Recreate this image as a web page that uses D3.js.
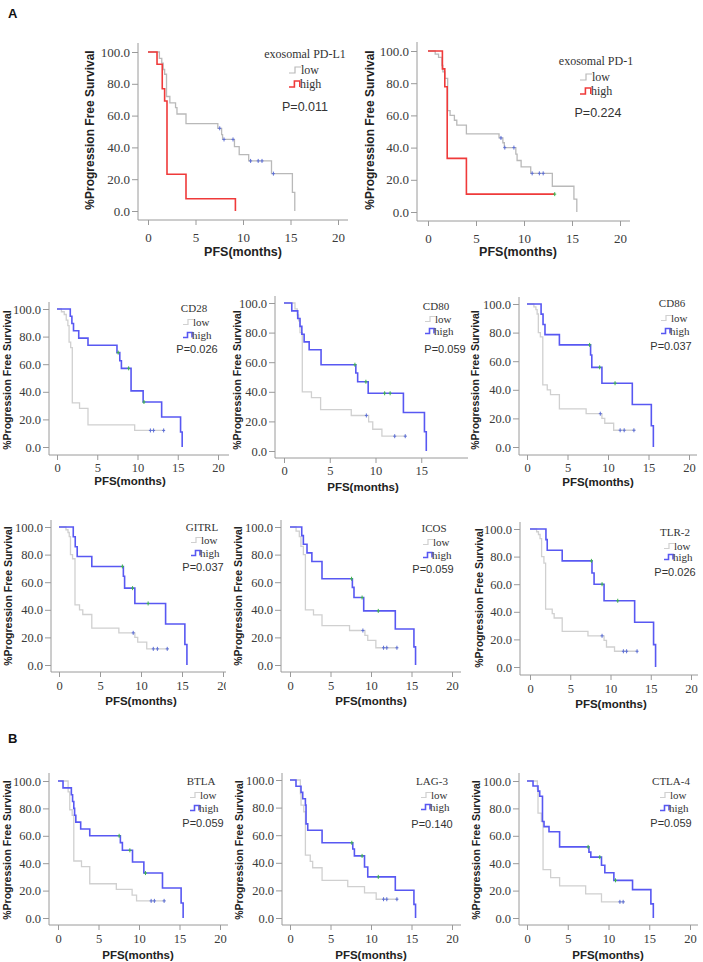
<!DOCTYPE html>
<html><head><meta charset="utf-8">
<script src="https://cdn.jsdelivr.net/npm/d3@7"></script>
<style>body{margin:0;background:#fff}svg{display:block}</style>
</head><body>
<svg id="c" width="703" height="962"></svg>
<script>
// ---------- DATA ----------
const xTicks = [0, 5, 10, 15, 20];
const xTicksCut = [0, 5, 10, 15];
const yTicks = [0, 20, 40, 60, 80, 100];
const groupLabels = ["low", "high"];
const xTitle = "PFS(months)";
const yTitle = "%Progression Free Survival";

const pdl1Low = [[0,100],[1.2,96],[1.45,93],[1.6,89],[1.75,86],[1.95,72],[2.3,68],[2.9,65],[3.05,61],[4.0,55],[7.35,52],[7.75,48],[7.85,45],[9.1,40.5],[9.6,35.5],[10.6,31.5],[13.0,23.5],[15.2,11.7],[15.45,0]];
const pdl1LowCens = [7.55, 8.0, 8.95, 10.8, 11.6, 12.0, 13.2];
const pdl1High = [[0,100],[0.95,92.3],[1.5,76.9],[1.75,69.2],[2.0,23.1],[4.0,7.7],[9.2,0]];
const pdl1HighCens = [];

const pd1Low = [[0,100],[0.75,98],[1.1,96],[1.45,91],[1.55,87],[1.75,83],[2.05,63],[2.3,60],[2.75,57],[3.0,54],[4.0,48.5],[7.4,46],[7.8,43],[7.95,40],[9.15,36],[9.28,32],[9.7,28],[10.7,24],[12.95,16],[15.2,8],[15.5,0]];
const pd1LowCens = [7.6, 8.0, 8.95, 10.85, 11.6, 12.0];
const pd1High = [[0,100],[1.5,88.9],[1.75,77.8],[2.0,33.3],[4.0,11.1],[13.2,11.1]];
const pd1HighCens = [13.2];

const cd28Low = [[0,100],[0.55,98],[0.9,96],[1.15,92],[1.35,88],[1.5,76],[1.7,72],[1.9,32],[2.8,28],[3.85,16],[9.65,12],[13.4,12]];
const cd28LowCens = [11.6, 12.0, 13.25];
const cd28High = [[0,100],[1.65,94.7],[1.85,89.5],[2.05,84.2],[2.7,78.9],[3.85,73.7],[7.45,68.4],[7.8,62.5],[8.0,57.0],[9.2,40.7],[10.7,32.6],[13.0,21.7],[15.35,10.9],[15.55,0]];
const cd28HighCens = [7.6, 8.9, 10.8];

const cd80Low = [[0,100],[1.2,96],[1.45,92],[1.6,88],[1.75,80],[2.0,40],[3.0,36],[4.0,28],[7.35,24],[9.25,19.7],[9.7,14.7],[10.7,10],[13.4,10]];
const cd80LowCens = [9.0, 12.1, 13.25];
const cd80High = [[0,100],[0.85,94.7],[1.5,89.5],[1.75,84.2],[1.95,78.9],[2.2,73.7],[2.75,68.4],[4.05,58.3],[7.85,52.7],[8.05,46.8],[9.2,39],[13.05,26],[15.35,13],[15.55,0]];
const cd80HighCens = [7.75, 8.95, 11.0, 11.6];

const cd86Low = [[0,100],[0.85,98],[1.1,96],[1.25,93],[1.4,80],[1.65,77],[1.95,43.5],[2.5,40],[2.9,36.6],[4.0,26.7],[7.3,23.3],[9.25,20],[9.6,16.6],[10.7,11.7],[13.4,11.7]];
const cd86LowCens = [9.05, 11.5, 12.0, 13.2];
const cd86High = [[0,100],[1.74,92.9],[1.98,85.7],[2.22,78.6],[4.0,71.4],[7.85,64.3],[8.0,55.7],[9.25,44.6],[13.0,29.7],[15.35,14.9],[15.6,0]];
const cd86HighCens = [7.73, 8.97, 10.87];

const gitrlLow = [[0,100],[0.85,98],[1.1,96],[1.25,93],[1.4,80],[1.65,77],[1.95,43.5],[2.5,40],[2.9,36.6],[4.0,26.7],[7.3,23.3],[9.25,20],[9.6,16.6],[10.7,11.7],[13.4,11.7]];
const gitrlLowCens = [9.05, 11.5, 12.0, 13.2];
const gitrlHigh = [[0,100],[1.74,92.9],[1.98,85.7],[2.22,78.6],[4.0,71.4],[7.85,64.3],[8.0,55.7],[9.25,44.6],[13.0,29.7],[15.35,14.9],[15.6,0]];
const gitrlHighCens = [7.73, 8.97, 10.87];

const icosLow = [[0,100],[0.75,97],[1.15,93],[1.35,86],[1.65,80],[1.9,40],[2.9,36.3],[3.95,28.6],[7.35,25],[9.25,21.4],[9.6,17.8],[10.6,12.5],[13.35,12.5]];
const icosLowCens = [9.0, 11.55, 11.95, 13.2];
const icosHigh = [[0,100],[1.45,93.75],[1.65,87.5],[2.1,81.25],[2.7,75],[3.95,62.5],[7.7,56.25],[7.9,48.9],[9.1,39.2],[13.0,26.1],[15.3,13.1],[15.5,0]];
const icosHighCens = [7.6, 8.9, 10.9];

const tlr2Low = [[0,100],[0.82,98],[1.05,96],[1.25,93],[1.44,80],[1.73,75.3],[1.94,42],[2.76,38.7],[3.0,35.5],[4.0,25.8],[7.2,22.6],[9.2,19.3],[9.5,14.5],[10.5,11.4],[13.4,11.4]];
const tlr2LowCens = [8.95, 11.6, 12.0, 13.3];
const tlr2High = [[0,100],[1.98,92.3],[2.14,84.6],[4.0,76.9],[7.7,68.1],[7.96,60],[9.2,48],[13.0,32.4],[15.35,16.2],[15.6,0]];
const tlr2HighCens = [7.63, 8.95, 10.9];

const btlaLow = [[0,100],[1.25,92],[1.45,79],[1.75,75],[1.95,41.6],[2.9,37.5],[3.92,25],[7.2,20.9],[9.15,16.7],[9.7,12.5],[13.3,12.5]];
const btlaLowCens = [11.5, 11.9, 13.1];
const btlaHigh = [[0,100],[0.62,95],[1.65,90],[1.8,85],[1.95,80],[2.05,75],[2.2,70],[2.8,65],[3.92,60],[7.7,55],[7.95,49.4],[9.2,40.9],[10.6,32.8],[12.9,21.9],[15.2,10.9],[15.45,0]];
const btlaHighCens = [7.55, 8.87, 10.8];

const lag3Low = [[0,100],[1.28,90],[1.36,81.8],[1.7,77],[1.9,45.5],[2.5,41],[2.8,36.4],[3.96,27.3],[7.13,22.7],[9.2,18.2],[10.64,13.6],[13.35,13.6]];
const lag3LowCens = [11.55, 11.95, 13.2];
const lag3High = [[0,100],[0.74,95.5],[1.36,91],[1.57,86.4],[1.9,81.8],[1.98,68.2],[2.19,63.6],[3.96,54.5],[7.75,50],[7.95,45],[9.2,37],[9.6,29.8],[13.0,20.1],[15.3,9.9],[15.5,0]];
const lag3HighCens = [7.63, 8.9, 10.9];

const ctla4Low = [[0,100],[1.27,94],[1.35,76.5],[1.76,70.6],[1.97,35.3],[2.9,29.4],[4.0,23.5],[7.2,17.6],[9.14,11.8],[12.0,11.8]];
const ctla4LowCens = [11.4, 11.8];
const ctla4High = [[0,100],[0.74,96.3],[1.35,92.6],[1.56,88.9],[1.9,70.4],[2.09,66.7],[2.7,63],[4.0,51.9],[7.6,48.1],[7.83,44.4],[9.14,38.5],[9.55,33],[10.66,27.5],[12.95,20.7],[15.2,10.3],[15.5,0]];
const ctla4HighCens = [7.5, 8.93, 10.86];

// ---------- LAYOUT ----------
const RED = "#ef3a3a", BLUE = "#5858f2", GRAY_T = "#b9b9b9", GRAY_B = "#d0d0d0";
const panels = [
 {name:"exosomal PD-L1", P:"P=0.011", low:pdl1Low, lowC:pdl1LowCens, high:pdl1High, highC:pdl1HighCens, col:RED, gray:GRAY_T, big:true,
  yAx:138, x0:148, x20:338, y100:52, y0:211, xAxY:220, top:43, right:348, ticks:xTicks, legX:305, legY:[54,70,84], pX:305, pY:107, yT:[90,130], xT:[243,252], tlY:237},
 {name:"exosomal PD-1", P:"P=0.224", low:pd1Low, lowC:pd1LowCens, high:pd1High, highC:pd1HighCens, col:RED, gray:GRAY_T, big:true,
  yAx:417, x0:428, x20:620, y100:51, y0:212, xAxY:221, top:42, right:630, ticks:xTicks, legX:596, legY:[61,77,91], pX:598, pY:113, yT:[370,130], xT:[518,252], tlY:238},
 {name:"CD28", P:"P=0.026", low:cd28Low, lowC:cd28LowCens, high:cd28High, highC:cd28HighCens, col:BLUE, gray:GRAY_B,
  yAx:49, x0:57, x20:218, y100:309, y0:447, xAxY:455, top:302, right:229, ticks:xTicks, legX:194, legY:[308,322,335], pX:197, pY:349, yT:[7,380], xT:[130,481], tlY:468},
 {name:"CD80", P:"P=0.059", low:cd80Low, lowC:cd80LowCens, high:cd80High, highC:cd80HighCens, col:BLUE, gray:GRAY_B,
  yAx:275, x0:284, x20:467, y100:303, y0:451, xAxY:458, top:296, right:468, ticks:xTicksCut, legX:436, legY:[306,319,331], pX:445, pY:349, yT:[237,380], xT:[363,487], tlY:471},
 {name:"CD86", P:"P=0.037", low:cd86Low, lowC:cd86LowCens, high:cd86High, highC:cd86HighCens, col:BLUE, gray:GRAY_B,
  yAx:519, x0:527, x20:689, y100:304, y0:447, xAxY:455, top:297, right:697, ticks:xTicks, legX:672, legY:[303,318,331], pX:671, pY:346, yT:[475,380], xT:[598,482], tlY:468},
 {name:"GITRL", P:"P=0.037", low:gitrlLow, lowC:gitrlLowCens, high:gitrlHigh, highC:gitrlHighCens, col:BLUE, gray:GRAY_B, clip:226,
  yAx:51, x0:59, x20:223, y100:527, y0:665, xAxY:672, top:520, right:230, ticks:xTicks, legX:202, legY:[527,540,553], pX:203, pY:567, yT:[8,596], xT:[141,701], tlY:686},
 {name:"ICOS", P:"P=0.059", low:icosLow, lowC:icosLowCens, high:icosHigh, highC:icosHighCens, col:BLUE, gray:GRAY_B,
  yAx:281, x0:290, x20:452, y100:527, y0:665, xAxY:672, top:520, right:461, ticks:xTicks, legX:434, legY:[528,542,555], pX:433, pY:569, yT:[238,596], xT:[371,701], tlY:686},
 {name:"TLR-2", P:"P=0.026", low:tlr2Low, lowC:tlr2LowCens, high:tlr2High, highC:tlr2HighCens, col:BLUE, gray:GRAY_B,
  yAx:520, x0:530, x20:691, y100:529, y0:667, xAxY:675, top:522, right:698, ticks:xTicks, legX:675, legY:[532,546,557], pX:675, pY:572, yT:[479,598], xT:[611,704], tlY:689},
 {name:"BTLA", P:"P=0.059", low:btlaLow, lowC:btlaLowCens, high:btlaHigh, highC:btlaHighCens, col:BLUE, gray:GRAY_B,
  yAx:49, x0:58, x20:220, y100:781, y0:918, xAxY:925, top:773, right:228, ticks:xTicks, legX:201, legY:[781,795,808], pX:203, pY:823, yT:[7,850], xT:[138,955], tlY:939},
 {name:"LAG-3", P:"P=0.140", low:lag3Low, lowC:lag3LowCens, high:lag3High, highC:lag3HighCens, col:BLUE, gray:GRAY_B,
  yAx:282, x0:290, x20:452, y100:780, y0:918, xAxY:925, top:773, right:461, ticks:xTicks, legX:432, legY:[781,795,807], pX:432, pY:824, yT:[239,850], xT:[371,955], tlY:939},
 {name:"CTLA-4", P:"P=0.059", low:ctla4Low, lowC:ctla4LowCens, high:ctla4High, highC:ctla4HighCens, col:BLUE, gray:GRAY_B,
  yAx:519, x0:527, x20:690, y100:781, y0:918, xAxY:925, top:773, right:698, ticks:xTicks, legX:671, legY:[781,795,808], pX:671, pY:823, yT:[476,850], xT:[608,955], tlY:939}
];

const svg = d3.select("#c");
const SERIF = "'Liberation Serif','Times New Roman',serif";
const SANS = "'Liberation Sans',Arial,sans-serif";

svg.append("text").attr("x",8).attr("y",18).text("A")
  .attr("font-family",SANS).attr("font-weight","bold").attr("font-size",13).attr("fill","#111");
svg.append("text").attr("x",8).attr("y",743).text("B")
  .attr("font-family",SANS).attr("font-weight","bold").attr("font-size",13).attr("fill","#111");

function survAt(curve, t){
  let s = curve[0][1];
  for (const [ti, si] of curve) { if (ti <= t) s = si; }
  return s;
}

panels.forEach((p, i) => {
  const g = svg.append("g");
  if (p.clip) {
    svg.append("clipPath").attr("id","cl"+i).append("rect")
      .attr("x",0).attr("y",p.top-20).attr("width",p.clip).attr("height",260);
    g.attr("clip-path","url(#cl"+i+")");
  }
  const x = d3.scaleLinear().domain([0,20]).range([p.x0, p.x20]);
  const y = d3.scaleLinear().domain([0,100]).range([p.y0, p.y100]);
  const axCol = "#9a9a9a", lblCol = "#3a3a3a";
  const tfs = p.big ? 13 : 12.5;

  // y axis
  const ya = g.append("g").attr("transform",`translate(${p.yAx},0)`)
    .call(d3.axisLeft(y).tickValues(yTicks).tickFormat(d3.format(".1f")).tickSize(6).tickPadding(2));
  ya.select(".domain").remove();
  ya.selectAll("line").attr("stroke",axCol);
  ya.selectAll("text").attr("font-family",SERIF).attr("font-size",tfs).attr("fill",lblCol);
  // x axis
  const xa = g.append("g").attr("transform",`translate(0,${p.xAxY})`)
    .call(d3.axisBottom(x).tickValues(p.ticks).tickSize(5).tickPadding(3));
  xa.select(".domain").remove();
  xa.selectAll("line").attr("stroke",axCol);
  xa.selectAll("text").attr("font-family",SERIF).attr("font-size",tfs).attr("fill",lblCol)
    .attr("y", p.tlY - p.xAxY).attr("dy","0.35em");
  g.append("line").attr("x1",p.yAx).attr("x2",p.yAx).attr("y1",p.top).attr("y2",p.xAxY).attr("stroke",axCol);
  g.append("line").attr("x1",p.yAx).attr("x2",p.right).attr("y1",p.xAxY).attr("y2",p.xAxY).attr("stroke",axCol);

  // titles
  g.append("text").attr("transform",`translate(${p.yT[0]},${p.yT[1]}) rotate(-90)`)
    .attr("text-anchor","middle").attr("dy","0.35em").text(yTitle)
    .attr("font-family",SANS).attr("font-weight","bold").attr("font-size",p.big?12:10.5).attr("fill","#222");
  g.append("text").attr("x",p.xT[0]).attr("y",p.xT[1]).attr("dy","0.35em")
    .attr("text-anchor","middle").text(xTitle)
    .attr("font-family",SANS).attr("font-weight","bold").attr("font-size",p.big?12.5:11.5).attr("fill","#222");

  // curves
  const line = d3.line().x(d=>x(d[0])).y(d=>y(d[1])).curve(d3.curveStepAfter);
  const series = [
    {data:p.low, cens:p.lowC, col:p.gray, ccol:"#5d6fd6", w:1.3},
    {data:p.high, cens:p.highC, col:p.col, ccol:"#3fb24f", w:1.6}
  ];
  series.forEach(s => {
    g.append("path").attr("d", line(s.data)).attr("fill","none")
      .attr("stroke", s.col).attr("stroke-width", s.w);
    g.selectAll(null).data(s.cens).enter().append("path")
      .attr("d", t => { const cx = x(t), cy = y(survAt(s.data,t));
        return `M${cx},${cy-2}V${cy+2}M${cx-1.5},${cy}H${cx+1.5}`; })
      .attr("stroke", s.ccol).attr("stroke-width",1).attr("fill","none");
  });

  // legend
  const lfs = p.big ? 12 : 11;
  g.append("text").attr("x",p.legX).attr("y",p.legY[0]).attr("dy","0.35em").attr("text-anchor","middle")
    .text(p.name).attr("font-family",SERIF).attr("font-size",lfs).attr("fill","#333");
  const iw = p.big ? 12 : 10, ih = p.big ? 3 : 2.5;
  const ix = p.big ? p.legX - 16 : p.legX - 11;
  [0,1].forEach(k => {
    const cy = p.legY[k+1];
    const col = k === 0 ? p.gray : p.col;
    const d = k === 0
      ? `M${ix},${cy+ih}H${ix+iw/2}V${cy-ih}H${ix+iw}`
      : `M${ix},${cy+ih}H${ix+iw*0.45}V${cy-ih}H${ix+iw*0.9}V${cy+ih}`;
    g.append("path").attr("d", d).attr("fill","none").attr("stroke", col).attr("stroke-width", k===0?1.2:1.6);
    g.append("text").attr("x", ix + iw - (k===0?0:1)).attr("y", cy).attr("dy","0.35em")
      .text(groupLabels[k]).attr("font-family",SERIF).attr("font-size",lfs).attr("fill","#333");
  });
  g.append("text").attr("x",p.pX).attr("y",p.pY).attr("dy","0.35em").attr("text-anchor","middle")
    .text(p.P).attr("font-family",SANS).attr("font-size",p.big?12.5:11).attr("fill","#333");
});
</script>
</body></html>
